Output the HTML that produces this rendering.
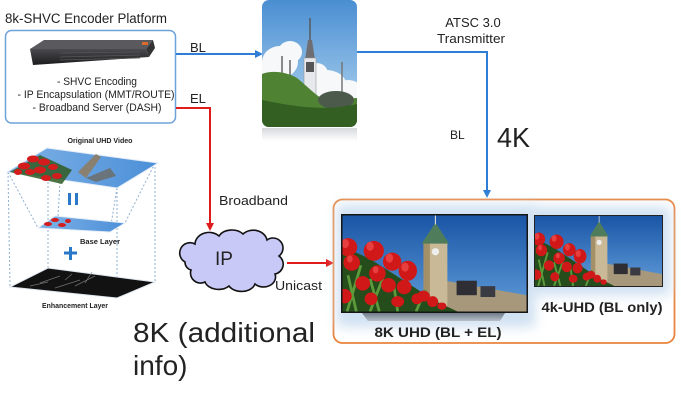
<!DOCTYPE html>
<html><head><meta charset="utf-8"><style>
html,body{margin:0;padding:0;background:#fff;}
svg{display:block;}
text{font-family:"Liberation Sans",sans-serif;fill:#222;}
</style></head><body>
<svg width="681" height="400" viewBox="0 0 681 400" xmlns="http://www.w3.org/2000/svg">
<defs>
  <linearGradient id="sky1" x1="0" y1="0" x2="0" y2="1">
    <stop offset="0" stop-color="#1a55a6"/><stop offset="1" stop-color="#5f9cd8"/>
  </linearGradient>
  <linearGradient id="sky2" x1="0" y1="0" x2="0" y2="1">
    <stop offset="0" stop-color="#4a8ed2"/><stop offset="0.8" stop-color="#a2cbec"/>
  </linearGradient>
  <linearGradient id="plane" x1="0" y1="0" x2="1" y2="0">
    <stop offset="0" stop-color="#7fb2e6"/><stop offset="1" stop-color="#4c8fd8"/>
  </linearGradient>
  <linearGradient id="refl" x1="0" y1="0" x2="0" y2="1">
    <stop offset="0" stop-color="#c4c8cc"/><stop offset="1" stop-color="#ffffff"/>
  </linearGradient>
  <linearGradient id="stand" x1="0" y1="0" x2="0" y2="1">
    <stop offset="0" stop-color="#6f7b88"/><stop offset="1" stop-color="#b7c0ca"/>
  </linearGradient>
  <linearGradient id="dev" x1="0" y1="0" x2="0" y2="1">
    <stop offset="0" stop-color="#4a4a4e"/><stop offset="1" stop-color="#1c1c1e"/>
  </linearGradient>
  <filter id="blur" x="-20%" y="-20%" width="140%" height="140%"><feGaussianBlur stdDeviation="6"/></filter>
  <clipPath id="towerclip"><rect x="0" y="0" width="95" height="127" rx="7"/></clipPath>

  <symbol id="park" viewBox="0 0 200 106" preserveAspectRatio="none">
    <rect x="0" y="0" width="200" height="106" fill="url(#sky1)"/>
    <ellipse cx="172" cy="88" rx="16" ry="3" fill="#fff" opacity="0.8"/>
    <polygon points="112,72 200,88 200,106 112,106" fill="#a7987c"/>
    <rect x="124" y="72" width="22" height="16" fill="#2e2e34"/>
    <rect x="150" y="78" width="16" height="12" fill="#3a3a42"/>
    <rect x="88" y="30" width="26" height="76" fill="#cab996"/>
    <rect x="88" y="30" width="7" height="76" fill="#a39069"/>
    <circle cx="101" cy="40" r="4" fill="#eee"/>
    <polygon points="86,31 101,8 116,31" fill="#4f7d5c"/>
    <line x1="101" y1="0" x2="101" y2="10" stroke="#ddd" stroke-width="1.2"/>
    <path d="M0,34 L30,48 L70,74 L100,94 L125,106 L0,106 Z" fill="#244d1b"/>
    <path d="M5,106 L20,55 M30,106 L45,66 M60,106 L55,72 M80,106 L90,82 M15,106 L6,66 M40,106 L30,70" stroke="#5d9a3c" stroke-width="3"/>
    <g fill="#d01818">
      <ellipse cx="6" cy="35" rx="10" ry="10"/><ellipse cx="34" cy="39" rx="11" ry="11"/>
      <ellipse cx="10" cy="52" rx="9" ry="9"/><ellipse cx="54" cy="51" rx="10" ry="10"/>
      <ellipse cx="71" cy="61" rx="10" ry="11"/><ellipse cx="38" cy="64" rx="9" ry="9"/>
      <ellipse cx="22" cy="75" rx="8" ry="8"/><ellipse cx="50" cy="77" rx="8" ry="8"/>
      <ellipse cx="67" cy="79" rx="8" ry="8"/><ellipse cx="88" cy="89" rx="7" ry="6"/>
      <ellipse cx="98" cy="95" rx="6" ry="6"/><ellipse cx="81" cy="92" rx="6" ry="6"/>
      <ellipse cx="2" cy="89" rx="8" ry="8"/><ellipse cx="31" cy="92" rx="7" ry="7"/>
      <ellipse cx="60" cy="95" rx="7" ry="6"/><ellipse cx="108" cy="100" rx="5" ry="4"/>
    </g>
    <g fill="#f25050" opacity="0.7">
      <ellipse cx="3" cy="31" rx="4" ry="5"/><ellipse cx="30" cy="34" rx="4" ry="5"/>
      <ellipse cx="51" cy="47" rx="4" ry="5"/><ellipse cx="68" cy="57" rx="4" ry="5"/>
      <ellipse cx="8" cy="48" rx="3" ry="4"/><ellipse cx="36" cy="60" rx="3" ry="4"/>
    </g>
  </symbol>

  <symbol id="tower" viewBox="0 0 95 127">
    <g clip-path="url(#towerclip)">
      <rect x="0" y="0" width="95" height="127" fill="url(#sky2)"/>
      <g fill="#f7f8fa">
        <ellipse cx="18" cy="62" rx="18" ry="16"/><ellipse cx="6" cy="72" rx="12" ry="10"/>
        <ellipse cx="28" cy="52" rx="12" ry="11"/><ellipse cx="64" cy="84" rx="20" ry="14"/>
        <ellipse cx="86" cy="90" rx="14" ry="10"/><ellipse cx="55" cy="74" rx="11" ry="11"/>
      </g>
      <line x1="48" y1="18" x2="48" y2="48" stroke="#555" stroke-width="1.4"/>
      <polygon points="46,40 50,40 53,60 43,60" fill="#6e6e72"/>
      <rect x="42" y="58" width="12" height="44" fill="#e6e8ec" stroke="#999" stroke-width="0.6"/>
      <rect x="44" y="62" width="8" height="10" fill="#555"/>
      <line x1="20" y1="56" x2="20" y2="82" stroke="#666" stroke-width="1.5"/>
      <line x1="28" y1="60" x2="28" y2="82" stroke="#666" stroke-width="1.5"/>
      <line x1="80" y1="62" x2="80" y2="92" stroke="#777" stroke-width="1.5"/>
      <path d="M0,74 C10,70 25,72 35,78 C45,86 52,94 62,100 L95,98 L95,127 L0,127 Z" fill="#4f8233"/>
      <ellipse cx="74" cy="100" rx="18" ry="9" fill="#4b5a4a"/>
      <path d="M0,100 C30,106 60,112 95,104 L95,127 L0,127 Z" fill="#335f22"/>
    </g>
  </symbol>
</defs>

<rect x="0" y="0" width="681" height="400" fill="#fff"/>

<!-- Encoder platform -->
<text x="5" y="23" font-size="13.5" textLength="162" lengthAdjust="spacingAndGlyphs">8k-SHVC Encoder Platform</text>
<rect x="5.5" y="30.5" width="170" height="92.5" rx="6" fill="#fff" stroke="#6ea2da" stroke-width="1.5"/>
<polygon points="30,49 44,40 153,40 146,49" fill="#5a5a5e"/>
<polygon points="30,49 146,49 149,57 33,65" fill="url(#dev)"/>
<polygon points="146,49 153,40 155,48 149,57" fill="#333"/>
<rect x="142" y="42" width="6" height="3" fill="#d86a2a"/>
<g stroke="#555" stroke-width="0.8">
  <line x1="60" y1="53" x2="140" y2="52"/><line x1="60" y1="57" x2="140" y2="55"/><line x1="60" y1="60" x2="140" y2="58"/>
</g>
<text x="97" y="85" font-size="11" text-anchor="middle" textLength="80" lengthAdjust="spacingAndGlyphs">- SHVC Encoding</text>
<text x="96" y="98" font-size="11" text-anchor="middle" textLength="157" lengthAdjust="spacingAndGlyphs">- IP Encapsulation (MMT/ROUTE)</text>
<text x="97" y="111" font-size="11" text-anchor="middle" textLength="129" lengthAdjust="spacingAndGlyphs">- Broadband Server (DASH)</text>

<!-- BL top arrow -->
<line x1="176" y1="54" x2="257" y2="54" stroke="#2f7ed6" stroke-width="2"/>
<polygon points="263,54 255,50 255,58" fill="#2f7ed6"/>
<text x="190" y="52" font-size="13">BL</text>

<!-- EL red -->
<polyline points="176,108 210,108 210,224" fill="none" stroke="#e01b1b" stroke-width="2"/>
<polygon points="210,231 206,223 214,223" fill="#e01b1b"/>
<text x="190" y="103" font-size="13">EL</text>
<text x="219" y="205" font-size="13" textLength="69" lengthAdjust="spacingAndGlyphs">Broadband</text>

<!-- Tower -->
<use href="#tower" x="262" y="0" width="95" height="127"/>
<rect x="262" y="128" width="95" height="13" fill="url(#refl)" opacity="0.7"/>

<!-- Transmitter line -->
<polyline points="357,52 487,52 487,192" fill="none" stroke="#2f7ed6" stroke-width="2"/>
<polygon points="487,198 483,190 491,190" fill="#2f7ed6"/>
<text x="473" y="27" font-size="13" text-anchor="middle">ATSC 3.0</text>
<text x="471" y="43" font-size="13" text-anchor="middle" textLength="68" lengthAdjust="spacingAndGlyphs">Transmitter</text>
<text x="450" y="139" font-size="12">BL</text>
<text x="497" y="147" font-size="28" textLength="33" lengthAdjust="spacingAndGlyphs">4K</text>

<!-- Cloud -->
<path d="M185,262 a10,10 0 0,1 10,-18 a14,12 0 0,1 24,-8 a14,10 0 0,1 24,-2 a14,12 0 0,1 24,6 a10,10 0 0,1 12,16 a10,10 0 0,1 -4,18 a12,10 0 0,1 -20,10 a14,10 0 0,1 -26,2 a14,10 0 0,1 -24,-4 a10,10 0 0,1 -14,-12 a8,8 0 0,1 -6,-8 z" fill="#c9c9f7" stroke="#111" stroke-width="1.6"/>
<text x="215" y="265" font-size="19">IP</text>
<line x1="287" y1="263" x2="327" y2="263" stroke="#e01b1b" stroke-width="2"/>
<polygon points="334,263 326,259 326,267" fill="#e01b1b"/>
<text x="275" y="290" font-size="12.5" textLength="47" lengthAdjust="spacingAndGlyphs">Unicast</text>

<!-- Orange receiver box -->
<rect x="333.5" y="199.5" width="341" height="143.5" rx="9" fill="#fff" stroke="#e8843c" stroke-width="1.8"/>
<rect x="337" y="205" width="198" height="122" fill="#cfe0f1" filter="url(#blur)"/>
<rect x="529" y="207" width="141" height="88" fill="#cfe0f1" filter="url(#blur)"/>
<polygon points="362,313 505,313 500,321 368,321" fill="url(#stand)"/>
<rect x="341" y="214" width="187" height="99" fill="#151515"/>
<use href="#park" x="342.5" y="215.5" width="184" height="96"/>
<rect x="534" y="215" width="129" height="72" fill="#222"/>
<use href="#park" x="535" y="216" width="127" height="70"/>
<text x="438" y="337" font-size="14" font-weight="bold" text-anchor="middle" textLength="127" lengthAdjust="spacingAndGlyphs">8K UHD (BL + EL)</text>
<text x="602" y="312" font-size="14" font-weight="bold" text-anchor="middle" textLength="121" lengthAdjust="spacingAndGlyphs">4k-UHD (BL only)</text>

<!-- 8K additional info -->
<text x="133" y="342" font-size="28" textLength="182" lengthAdjust="spacingAndGlyphs">8K (additional</text>
<text x="133" y="375" font-size="28">info)</text>

<!-- Layer diagram -->
<g stroke="#8fb0d2" stroke-width="1" stroke-dasharray="2,2" fill="none">
  <line x1="8" y1="172" x2="10" y2="287"/>
  <line x1="48" y1="178" x2="48" y2="270"/>
  <line x1="117" y1="188" x2="117" y2="297"/>
  <line x1="155" y1="163" x2="155" y2="282"/>
  <line x1="8" y1="172" x2="38" y2="228"/>
  <line x1="60" y1="182" x2="58" y2="216"/>
  <line x1="117" y1="188" x2="110" y2="231"/>
  <line x1="155" y1="163" x2="125" y2="223"/>
</g>
<polygon points="7,172 47,148 158,163 117,188" fill="url(#plane)" stroke="#e3ecf6" stroke-width="1"/>
<polygon points="10,172 40,155 72,170 62,184" fill="#2f5a22" opacity="0.85"/>
<g fill="#d41c1c">
  <ellipse cx="24" cy="166" rx="6" ry="3.5"/><ellipse cx="33" cy="159" rx="6" ry="3.5"/>
  <ellipse cx="44" cy="162" rx="6" ry="3.5"/><ellipse cx="30" cy="172" rx="5" ry="3"/>
  <ellipse cx="40" cy="170" rx="6" ry="3.5"/><ellipse cx="53" cy="167" rx="5" ry="3"/>
  <ellipse cx="57" cy="176" rx="5" ry="3"/><ellipse cx="46" cy="178" rx="5" ry="3"/>
  <ellipse cx="18" cy="172" rx="4" ry="3"/>
</g>
<polygon points="78,172 96,154 101,157 86,178" fill="#8a8070"/>
<polygon points="86,178 110,168 116,176 96,182" fill="#6d6a62" opacity="0.8"/>
<polygon points="38,228 55,216 125,223 110,232" fill="url(#plane)" stroke="#e3ecf6" stroke-width="1"/>
<g fill="#d41c1c">
  <ellipse cx="48" cy="224" rx="4" ry="2"/><ellipse cx="55" cy="220" rx="4" ry="2"/><ellipse cx="62" cy="225" rx="4" ry="2"/><ellipse cx="68" cy="221" rx="3" ry="2"/>
</g>
<polygon points="10,287 48,268 155,282 117,298" fill="#121212" stroke="#dfe6ee" stroke-width="1"/>
<g stroke="#888" stroke-width="0.7" opacity="0.8">
  <line x1="40" y1="283" x2="60" y2="276"/><line x1="55" y1="288" x2="80" y2="280"/>
  <line x1="75" y1="286" x2="95" y2="276"/><line x1="85" y1="283" x2="92" y2="272"/>
  <line x1="30" y1="286" x2="48" y2="282"/><line x1="65" y1="280" x2="72" y2="274"/>
</g>
<rect x="68" y="193" width="3" height="12" fill="#2a78c8"/>
<rect x="75" y="193" width="3" height="12" fill="#2a78c8"/>
<line x1="64" y1="253" x2="77" y2="253" stroke="#2a78c8" stroke-width="3"/>
<line x1="70.5" y1="247" x2="70.5" y2="260" stroke="#2a78c8" stroke-width="3"/>
<text x="100" y="143" font-size="7.5" font-weight="bold" text-anchor="middle" textLength="65" lengthAdjust="spacingAndGlyphs">Original UHD Video</text>
<text x="100" y="244" font-size="7.5" font-weight="bold" text-anchor="middle" textLength="40" lengthAdjust="spacingAndGlyphs">Base Layer</text>
<text x="75" y="308" font-size="7.5" font-weight="bold" text-anchor="middle" textLength="66" lengthAdjust="spacingAndGlyphs">Enhancement Layer</text>
</svg>
</body></html>
